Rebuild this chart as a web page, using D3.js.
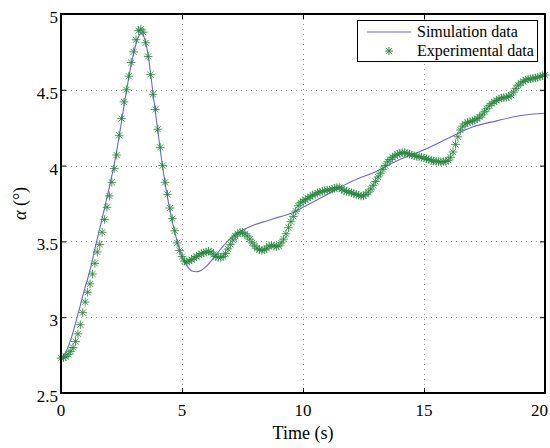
<!DOCTYPE html>
<html>
<head>
<meta charset="utf-8">
<script src="https://cdn.jsdelivr.net/npm/d3@7"></script>
<style>
  html, body { margin: 0; padding: 0; background: #fff; }
  svg { display: block; font-family: "Liberation Serif", "Times New Roman", serif; }
</style>
</head>
<body>
<svg id="chart" width="550" height="448"></svg>
<script>
// Simulated angle of attack (s, degrees)
const simTime = [0, 0.2, 0.4, 0.6, 0.8, 1.0, 1.2, 1.4, 1.6, 1.8, 2.0, 2.2, 2.4, 2.6, 2.8, 3.0, 3.2, 3.3, 3.4, 3.6, 3.8, 4.0, 4.2, 4.4, 4.6, 4.8, 5.0, 5.2, 5.4, 5.6, 5.8, 6.0, 6.3, 6.6, 7.0, 7.4, 8.0, 8.5, 9.0, 9.5, 10, 11, 12, 13, 14, 15, 16, 17, 18, 19, 20];
const simAlpha = [2.73, 2.77, 2.85, 2.96, 3.08, 3.20, 3.31, 3.45, 3.585, 3.72, 3.86, 4.01, 4.19, 4.39, 4.58, 4.74, 4.85, 4.875, 4.86, 4.73, 4.48, 4.23, 3.99, 3.79, 3.63, 3.50, 3.40, 3.34, 3.305, 3.30, 3.31, 3.335, 3.39, 3.45, 3.52, 3.565, 3.61, 3.635, 3.66, 3.685, 3.725, 3.81, 3.895, 3.96, 4.04, 4.105, 4.18, 4.255, 4.295, 4.33, 4.345];

// Measured angle of attack, sampled every 0.1 s from 0 to 20 s
const expStep = 0.1;
const expAlpha = [
  2.73, 2.733, 2.74, 2.755, 2.775, 2.80, 2.84, 2.89, 2.95, 3.03,
  3.10, 3.165, 3.22, 3.285, 3.355, 3.43, 3.48, 3.56, 3.645, 3.725,
  3.80, 3.89, 3.98, 4.07, 4.20, 4.31, 4.42, 4.50, 4.59, 4.68,
  4.75, 4.83, 4.89, 4.90, 4.88, 4.81, 4.72, 4.60, 4.47, 4.37,
  4.24, 4.12, 4.00, 3.89, 3.81, 3.72, 3.65, 3.57, 3.49, 3.44,
  3.40, 3.37, 3.365, 3.37, 3.38, 3.39, 3.40, 3.41, 3.42, 3.425,
  3.43, 3.435, 3.43, 3.415, 3.40, 3.395, 3.395, 3.40, 3.42, 3.45,
  3.48, 3.51, 3.535, 3.55, 3.56, 3.56, 3.55, 3.535, 3.515, 3.49,
  3.47, 3.455, 3.445, 3.44, 3.445, 3.455, 3.47, 3.475, 3.47, 3.465,
  3.47, 3.49, 3.515, 3.55, 3.59, 3.63, 3.665, 3.70, 3.735, 3.755,
  3.765, 3.775, 3.785, 3.795, 3.805, 3.81, 3.82, 3.825, 3.83, 3.835,
  3.838, 3.84, 3.845, 3.85, 3.855, 3.855, 3.845, 3.835, 3.83, 3.825,
  3.82, 3.815, 3.81, 3.805, 3.80, 3.80, 3.81, 3.825, 3.845, 3.87,
  3.895, 3.925, 3.95, 3.975, 4.00, 4.025, 4.04, 4.055, 4.065, 4.075,
  4.08, 4.085, 4.085, 4.08, 4.075, 4.07, 4.065, 4.06, 4.06, 4.055,
  4.05, 4.045, 4.04, 4.035, 4.03, 4.028, 4.026, 4.025, 4.025, 4.027,
  4.035, 4.055, 4.09, 4.14, 4.19, 4.235, 4.26, 4.275, 4.285, 4.29,
  4.295, 4.30, 4.31, 4.32, 4.335, 4.355, 4.375, 4.395, 4.41, 4.42,
  4.43, 4.44, 4.445, 4.448, 4.45, 4.455, 4.465, 4.485, 4.51, 4.53,
  4.545, 4.555, 4.565, 4.57, 4.572, 4.575, 4.578, 4.582, 4.588, 4.593,
  4.598
];

const xTicks = [0, 5, 10, 15, 20];
const yTicks = [2.5, 3, 3.5, 4, 4.5, 5];
const xTickLabels = ["0", "5", "10", "15", "20"];
const yTickLabels = ["2.5", "3", "3.5", "4", "4.5", "5"];
const seriesNames = ["Simulation data", "Experimental data"];

const simColor = "#6767d2";
const expColor = "#23883a";

const svg = d3.select("#chart");
const plot = { left: 61, right: 545, top: 14, bottom: 393 };

const x = d3.scaleLinear().domain([0, 20]).range([plot.left, plot.right]);
const y = d3.scaleLinear().domain([2.5, 5]).range([plot.bottom, plot.top]);

// Dotted grid
const grid = svg.append("g").attr("stroke", "#8a8a8a").attr("stroke-width", 1)
  .attr("stroke-dasharray", "1,4");
grid.selectAll(".gx").data(xTicks.slice(1, -1)).join("line")
  .attr("x1", d => Math.round(x(d)) + 0.5).attr("x2", d => Math.round(x(d)) + 0.5)
  .attr("y1", plot.top).attr("y2", plot.bottom);
grid.selectAll(".gy").data(yTicks.slice(1, -1)).join("line")
  .attr("y1", d => Math.round(y(d)) + 0.5).attr("y2", d => Math.round(y(d)) + 0.5)
  .attr("x1", plot.left).attr("x2", plot.right);

// Simulation curve
const simData = simTime.map((t, i) => [t, simAlpha[i]]);
svg.append("path")
  .datum(simData)
  .attr("fill", "none")
  .attr("stroke", simColor)
  .attr("stroke-width", 1.1)
  .attr("d", d3.line().x(d => x(d[0])).y(d => y(d[1])).curve(d3.curveMonotoneX));

// Asterisk marker (8 arms)
function asterisk(r) {
  const p = d3.path();
  const s = r * Math.SQRT1_2;
  p.moveTo(-r, 0); p.lineTo(r, 0);
  p.moveTo(0, -r); p.lineTo(0, r);
  p.moveTo(-s, -s); p.lineTo(s, s);
  p.moveTo(-s, s); p.lineTo(s, -s);
  return p.toString();
}
const expData = expAlpha.map((v, i) => [+(i * expStep).toFixed(1), v]);
svg.append("g")
  .selectAll("path")
  .data(expData)
  .join("path")
  .attr("transform", d => `translate(${x(d[0])},${y(d[1])})`)
  .attr("d", asterisk(4.3))
  .attr("fill", "none")
  .attr("stroke", expColor)
  .attr("stroke-width", 1)
  .attr("stroke-opacity", 0.85);

// Axes frame with inward ticks on all four sides
const tickLen = 5;
const axB = d3.axisBottom(x).tickValues(xTicks).tickSize(-tickLen).tickFormat("");
const axT = d3.axisTop(x).tickValues(xTicks).tickSize(-tickLen).tickFormat("");
const axL = d3.axisLeft(y).tickValues(yTicks).tickSize(-tickLen).tickFormat("");
const axR = d3.axisRight(y).tickValues(yTicks).tickSize(-tickLen).tickFormat("");
function styleAxis(g) {
  g.select(".domain").remove();
  g.selectAll(".tick line").attr("stroke", "#000").attr("stroke-width", 1);
}
svg.append("g").attr("transform", `translate(0,${plot.bottom})`).call(axB).call(styleAxis);
svg.append("g").attr("transform", `translate(0,${plot.top})`).call(axT).call(styleAxis);
svg.append("g").attr("transform", `translate(${plot.left},0)`).call(axL).call(styleAxis);
svg.append("g").attr("transform", `translate(${plot.right},0)`).call(axR).call(styleAxis);

svg.append("rect")
  .attr("x", plot.left).attr("y", plot.top)
  .attr("width", plot.right - plot.left).attr("height", plot.bottom - plot.top)
  .attr("fill", "none").attr("stroke", "#000").attr("stroke-width", 2);

// Tick labels (the last one kept inside the canvas)
svg.append("g").selectAll("text").data(xTicks).join("text")
  .attr("x", (d, i) => i === xTicks.length - 1 ? 548 : x(d))
  .attr("y", plot.bottom + 23)
  .attr("text-anchor", (d, i) => i === xTicks.length - 1 ? "end" : "middle")
  .attr("font-size", 17)
  .text((d, i) => xTickLabels[i]);
svg.append("g").selectAll("text").data(yTicks).join("text")
  .attr("x", plot.left - 3).attr("y", d => y(d) + 9)
  .attr("text-anchor", "end").attr("font-size", 17)
  .text((d, i) => yTickLabels[i]);

// Axis titles
svg.append("text")
  .attr("x", x(10)).attr("y", 439)
  .attr("text-anchor", "middle").attr("font-size", 18)
  .text("Time (s)");
const yl = svg.append("text")
  .attr("transform", `translate(26,${y(3.75)}) rotate(-90)`)
  .attr("text-anchor", "middle").attr("font-size", 18);
yl.append("tspan").attr("font-style", "italic").text("α");
yl.append("tspan").text(" (°)");

// Legend
const lg = svg.append("g");
lg.append("rect")
  .attr("x", 357.5).attr("y", 20.5).attr("width", 180).attr("height", 41)
  .attr("fill", "#fff").attr("stroke", "#000").attr("stroke-width", 1);
lg.append("line")
  .attr("x1", 367).attr("x2", 411).attr("y1", 32).attr("y2", 32)
  .attr("stroke", simColor).attr("stroke-width", 1.1);
lg.append("path")
  .attr("transform", "translate(389,51)")
  .attr("d", asterisk(4))
  .attr("fill", "none").attr("stroke", expColor).attr("stroke-width", 1);
lg.selectAll("text").data(seriesNames).join("text")
  .attr("x", 417).attr("y", (d, i) => 37 + i * 19)
  .attr("font-size", 16)
  .text(d => d);
</script>
</body>
</html>
